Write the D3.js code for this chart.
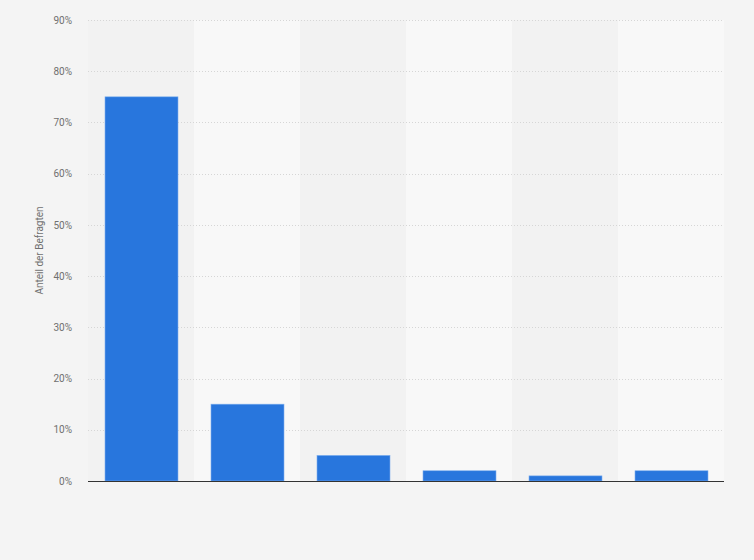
<!DOCTYPE html>
<html>
<head>
<meta charset="utf-8">
<script src="https://cdn.jsdelivr.net/npm/d3@7"></script>
<style>
  html, body { margin: 0; padding: 0; background: #f4f4f4; }
  svg { display: block; }
</style>
</head>
<body>
<svg id="chart" width="754" height="560"></svg>
<script>
const categories = ["A", "B", "C", "D", "E", "F"];
const values = [75, 15, 5, 2, 1, 2];
const yTicks = [0, 10, 20, 30, 40, 50, 60, 70, 80, 90];
const yTitle = "Anteil der Befragten";

const svg = d3.select("#chart");
const margin = { left: 88, right: 30, top: 20, bottom: 79 };
const W = 754, H = 560;

const x = d3.scaleBand().domain(categories).range([margin.left, W - margin.right]).paddingInner(0).paddingOuter(0);
const y = d3.scaleLinear().domain([0, 90]).range([H - margin.bottom, margin.top]);

svg.append("rect").attr("width", W).attr("height", H).attr("fill", "#f4f4f4");

// alternating bands
svg.append("g").selectAll("rect").data(categories).join("rect")
  .attr("x", d => x(d)).attr("y", y(90))
  .attr("width", x.bandwidth()).attr("height", y(0) - y(90))
  .attr("fill", (d, i) => i % 2 === 0 ? "#f2f2f2" : "#f8f8f8");

// gridlines
svg.append("g").selectAll("line").data(yTicks.filter(t => t > 0)).join("line")
  .attr("x1", margin.left).attr("x2", W - margin.right)
  .attr("y1", d => Math.round(y(d)) + 0.5).attr("y2", d => Math.round(y(d)) + 0.5)
  .attr("stroke", "#d6d6d6").attr("stroke-width", 1).attr("stroke-dasharray", "1,2");

// y axis labels
const yAxis = d3.axisLeft(y).tickValues(yTicks).tickFormat(d => d + "%").tickSize(0).tickPadding(0);
const ga = svg.append("g").attr("transform", `translate(${margin.left - 16},0)`).call(yAxis);
ga.select(".domain").remove();
ga.selectAll("text").attr("fill", "#707070").style("font-family", "Roboto, Arial, sans-serif").style("font-size", "10px");

// y title
svg.append("text")
  .attr("transform", `translate(43,${(y(0) + y(90)) / 2}) rotate(-90)`)
  .attr("text-anchor", "middle")
  .attr("fill", "#707070").style("font-family", "Roboto, Arial, sans-serif").style("font-size", "10px")
  .text(yTitle);

// bars
const barW = 73;
svg.append("g").selectAll("rect").data(values).join("rect")
  .attr("x", (d, i) => Math.ceil(x(categories[i]) + (x.bandwidth() - barW) / 2))
  .attr("y", d => y(d))
  .attr("width", barW)
  .attr("height", d => y(0) - y(d))
  .attr("fill", "#2876dd")
  .attr("stroke", "#7fb0ee").attr("stroke-width", 0.6);

// baseline
svg.append("line")
  .attr("x1", margin.left).attr("x2", W - margin.right)
  .attr("y1", Math.round(y(0)) + 0.5).attr("y2", Math.round(y(0)) + 0.5)
  .attr("stroke", "#333").attr("stroke-width", 1.2);
</script>
</body>
</html>
